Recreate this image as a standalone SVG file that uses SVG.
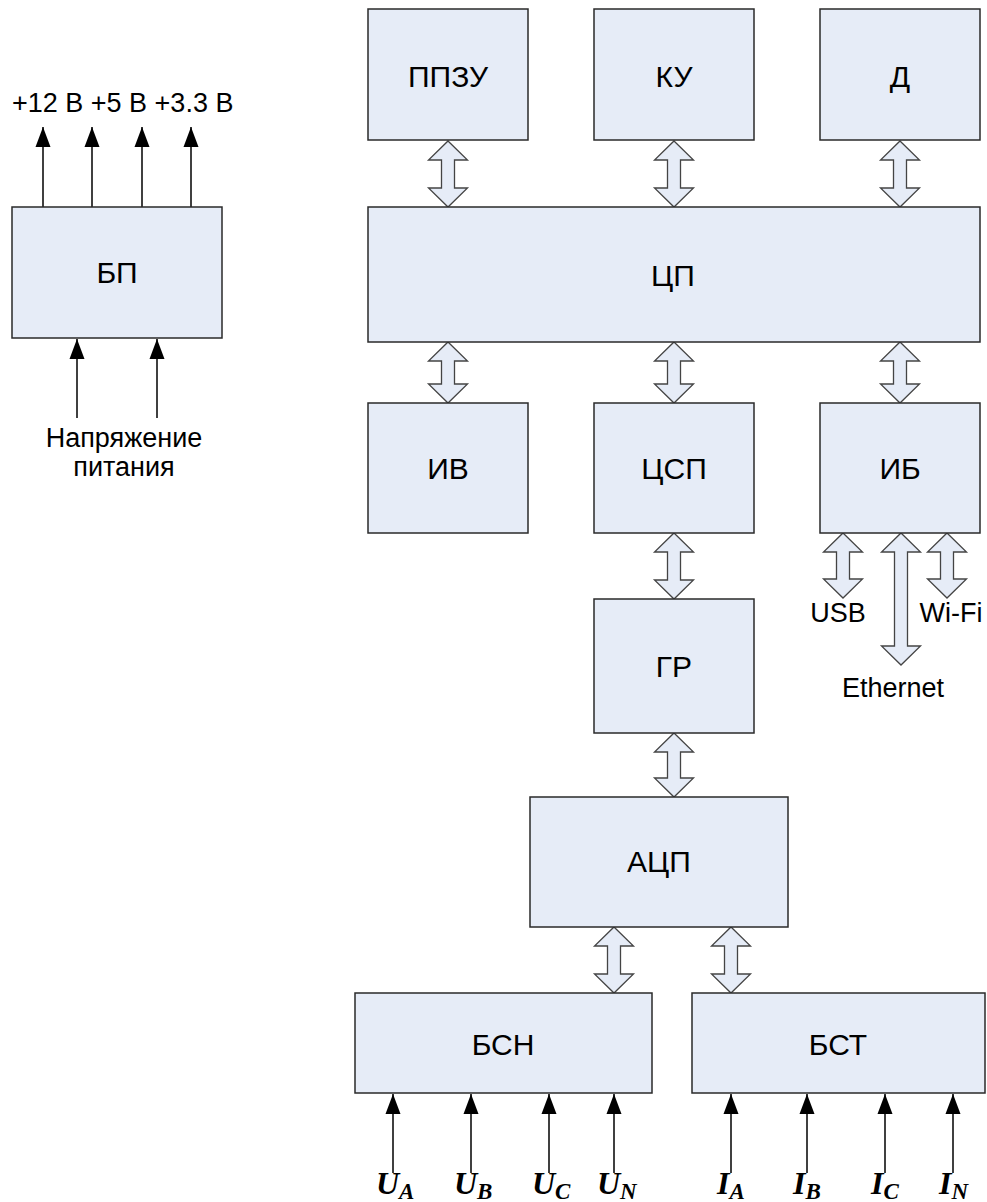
<svg xmlns="http://www.w3.org/2000/svg" width="987" height="1202" viewBox="0 0 987 1202">
<style>
.box{fill:#E6ECF7;stroke:#2a2a2a;stroke-width:1.5}
.lbl{font-family:"Liberation Sans",Arial,sans-serif;font-size:30px;fill:#000;text-anchor:middle}
.sm{font-family:"Liberation Sans",Arial,sans-serif;font-size:27px;fill:#000}
.bus{fill:#E6ECF7;stroke:#444;stroke-width:1.3;stroke-linejoin:miter}
.wire{stroke:#000;stroke-width:1.5;fill:none}
.math{font-family:"Liberation Serif","Times New Roman",serif;font-size:32px;font-weight:bold;font-style:italic;fill:#000}
.sub{font-size:23px}
</style>
<defs>
<marker id="ah" markerWidth="20" markerHeight="16" refX="20" refY="8" orient="auto" markerUnits="userSpaceOnUse" viewBox="0 0 20 16">
<path d="M20,8 L0,0.5 L0,15.5 Z" fill="#000"/>
</marker>
</defs>
<rect width="987" height="1202" fill="#fff"/>

<g id="connectors">
<path class="bus" d="M448,141 L467.5,160 L454.5,160 L454.5,188 L467.5,188 L448,207 L428.5,188 L441.5,188 L441.5,160 L428.5,160 Z"/>
<path class="bus" d="M674,141 L693.5,160 L680.5,160 L680.5,188 L693.5,188 L674,207 L654.5,188 L667.5,188 L667.5,160 L654.5,160 Z"/>
<path class="bus" d="M900,141 L919.5,160 L906.5,160 L906.5,188 L919.5,188 L900,207 L880.5,188 L893.5,188 L893.5,160 L880.5,160 Z"/>
<path class="bus" d="M448,342 L467.5,361 L454.5,361 L454.5,384 L467.5,384 L448,403 L428.5,384 L441.5,384 L441.5,361 L428.5,361 Z"/>
<path class="bus" d="M674,342 L693.5,361 L680.5,361 L680.5,384 L693.5,384 L674,403 L654.5,384 L667.5,384 L667.5,361 L654.5,361 Z"/>
<path class="bus" d="M900,342 L919.5,361 L906.5,361 L906.5,384 L919.5,384 L900,403 L880.5,384 L893.5,384 L893.5,361 L880.5,361 Z"/>
<path class="bus" d="M674,533 L693.5,552 L680.5,552 L680.5,580 L693.5,580 L674,599 L654.5,580 L667.5,580 L667.5,552 L654.5,552 Z"/>
<path class="bus" d="M674,733 L693.5,752 L680.5,752 L680.5,778 L693.5,778 L674,797 L654.5,778 L667.5,778 L667.5,752 L654.5,752 Z"/>
<path class="bus" d="M614,927 L633.5,946 L620.5,946 L620.5,974 L633.5,974 L614,993 L594.5,974 L607.5,974 L607.5,946 L594.5,946 Z"/>
<path class="bus" d="M731,927 L750.5,946 L737.5,946 L737.5,974 L750.5,974 L731,993 L711.5,974 L724.5,974 L724.5,946 L711.5,946 Z"/>
<path class="bus" d="M843,533 L862.5,552 L849.5,552 L849.5,579 L862.5,579 L843,598 L823.5,579 L836.5,579 L836.5,552 L823.5,552 Z"/>
<path class="bus" d="M901,533 L920.5,552 L907.5,552 L907.5,646 L920.5,646 L901,665 L881.5,646 L894.5,646 L894.5,552 L881.5,552 Z"/>
<path class="bus" d="M947,533 L966.5,552 L953.5,552 L953.5,579 L966.5,579 L947,598 L927.5,579 L940.5,579 L940.5,552 L927.5,552 Z"/>
<line class="wire" x1="43" y1="207" x2="43" y2="127" marker-end="url(#ah)"/>
<line class="wire" x1="92" y1="207" x2="92" y2="127" marker-end="url(#ah)"/>
<line class="wire" x1="142" y1="207" x2="142" y2="127" marker-end="url(#ah)"/>
<line class="wire" x1="191" y1="207" x2="191" y2="127" marker-end="url(#ah)"/>
<line class="wire" x1="77" y1="418" x2="77" y2="339" marker-end="url(#ah)"/>
<line class="wire" x1="157" y1="418" x2="157" y2="339" marker-end="url(#ah)"/>
<line class="wire" x1="393" y1="1173" x2="393" y2="1094" marker-end="url(#ah)"/>
<line class="wire" x1="471" y1="1173" x2="471" y2="1094" marker-end="url(#ah)"/>
<line class="wire" x1="549" y1="1173" x2="549" y2="1094" marker-end="url(#ah)"/>
<line class="wire" x1="614" y1="1173" x2="614" y2="1094" marker-end="url(#ah)"/>
<line class="wire" x1="731" y1="1173" x2="731" y2="1094" marker-end="url(#ah)"/>
<line class="wire" x1="807" y1="1173" x2="807" y2="1094" marker-end="url(#ah)"/>
<line class="wire" x1="885" y1="1173" x2="885" y2="1094" marker-end="url(#ah)"/>
<line class="wire" x1="953" y1="1173" x2="953" y2="1094" marker-end="url(#ah)"/>
</g>

<g id="n-ppzu"><rect class="box" x="368" y="9" width="160" height="131"/><text class="lbl" x="448" y="87">ППЗУ</text></g>
<g id="n-ku"><rect class="box" x="594" y="9" width="160" height="131"/><text class="lbl" x="674" y="87">КУ</text></g>
<g id="n-d"><rect class="box" x="820" y="9" width="160" height="131"/><text class="lbl" x="900" y="87">Д</text></g>
<g id="n-cp"><rect class="box" x="368" y="207" width="612" height="135"/><text class="lbl" x="673" y="286">ЦП</text></g>
<g id="n-iv"><rect class="box" x="368" y="403" width="160" height="130"/><text class="lbl" x="448" y="479">ИВ</text></g>
<g id="n-csp"><rect class="box" x="594" y="403" width="160" height="130"/><text class="lbl" x="674" y="479">ЦСП</text></g>
<g id="n-ib"><rect class="box" x="820" y="403" width="160" height="130"/><text class="lbl" x="900" y="479">ИБ</text></g>
<g id="n-gr"><rect class="box" x="594" y="599" width="160" height="134"/><text class="lbl" x="674" y="677">ГР</text></g>
<g id="n-acp"><rect class="box" x="530" y="797" width="258" height="130"/><text class="lbl" x="659" y="872">АЦП</text></g>
<g id="n-bsn"><rect class="box" x="355" y="993" width="297" height="100"/><text class="lbl" x="503" y="1055">БСН</text></g>
<g id="n-bst"><rect class="box" x="692" y="993" width="293" height="100"/><text class="lbl" x="838" y="1055">БСТ</text></g>
<g id="n-bp"><rect class="box" x="12" y="207" width="210" height="131"/><text class="lbl" x="117" y="283">БП</text></g>

<g id="labels">
<text class="sm" x="12" y="112">+12 В +5 В +3.3 В</text>
<text class="sm" x="124" y="447" text-anchor="middle">Напряжение</text>
<text class="sm" x="124" y="476" text-anchor="middle">питания</text>
<text class="sm" x="838" y="622" text-anchor="middle">USB</text>
<text class="sm" x="951" y="622" text-anchor="middle">Wi-Fi</text>
<text class="sm" x="893" y="697" text-anchor="middle">Ethernet</text>
<text class="math" x="376" y="1194">U<tspan class="sub" dy="5">A</tspan></text>
<text class="math" x="454" y="1194">U<tspan class="sub" dy="5">B</tspan></text>
<text class="math" x="532" y="1194">U<tspan class="sub" dy="5">C</tspan></text>
<text class="math" x="597" y="1194">U<tspan class="sub" dy="5">N</tspan></text>
<text class="math" x="717" y="1194">I<tspan class="sub" dy="5">A</tspan></text>
<text class="math" x="793" y="1194">I<tspan class="sub" dy="5">B</tspan></text>
<text class="math" x="871" y="1194">I<tspan class="sub" dy="5">C</tspan></text>
<text class="math" x="939" y="1194">I<tspan class="sub" dy="5">N</tspan></text>
</g>
</svg>
